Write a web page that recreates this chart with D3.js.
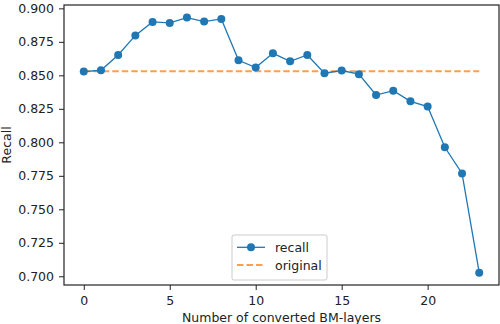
<!DOCTYPE html>
<html>
<head>
<meta charset="utf-8">
<script src="https://cdn.jsdelivr.net/npm/d3@7"></script>
<style>
  body { margin: 0; background: #fff; }
  text { font-family: "DejaVu Sans", sans-serif; fill: #222; }
</style>
</head>
<body>
<div id="chart"></div>
<script>
// Recall vs number of converted BM-layers

const layers = d3.range(0, 24);
const recall = [0.8528, 0.8538, 0.8652, 0.8798, 0.8899, 0.8891, 0.8931, 0.8901,
                0.8921, 0.8612, 0.8558, 0.8664, 0.8605, 0.8652, 0.8516, 0.8536,
                0.8509, 0.8353, 0.8385, 0.8306, 0.8267, 0.7963, 0.7768, 0.7027];
const original = 0.8531;
const xTicks = [0, 5, 10, 15, 20];
const yTicks = [0.700, 0.725, 0.750, 0.775, 0.800, 0.825, 0.850, 0.875, 0.900];

const width = 500, height = 324;
const margin = {left: 64, right: 1, top: 5, bottom: 39};
const fs = "12.5px";

const svg = d3.select("#chart").append("svg")
    .attr("width", width)
    .attr("height", height);

const x = d3.scaleLinear()
    .domain([-1.15, 24.15])
    .range([margin.left, width - margin.right]);

const y = d3.scaleLinear()
    .domain([0.6935, 0.9025])
    .range([height - margin.bottom, margin.top]);

// axes
svg.append("g")
    .attr("transform", `translate(0,${height - margin.bottom})`)
    .call(d3.axisBottom(x).tickValues(xTicks).tickSize(5).tickPadding(6))
    .call(g => g.select(".domain").remove())
    .call(g => g.selectAll("line").attr("stroke", "#222"))
    .call(g => g.selectAll("text").style("font-size", fs).attr("fill", "#222"));

svg.append("g")
    .attr("transform", `translate(${margin.left},0)`)
    .call(d3.axisLeft(y).tickValues(yTicks).tickFormat(d3.format(".3f")).tickSize(5).tickPadding(5))
    .call(g => g.select(".domain").remove())
    .call(g => g.selectAll("line").attr("stroke", "#222"))
    .call(g => g.selectAll("text").style("font-size", fs).attr("fill", "#222"));

// frame
svg.append("rect")
    .attr("x", margin.left)
    .attr("y", margin.top)
    .attr("width", width - margin.left - margin.right)
    .attr("height", height - margin.top - margin.bottom)
    .attr("fill", "none")
    .attr("stroke", "#222")
    .attr("stroke-width", 1.2);

// original baseline
svg.append("line")
    .attr("x1", x(0)).attr("x2", x(23))
    .attr("y1", y(original)).attr("y2", y(original))
    .attr("stroke", "#ff7f0e")
    .attr("stroke-opacity", 0.75)
    .attr("stroke-width", 2)
    .attr("stroke-dasharray", "6.5,3");

// recall line
const line = d3.line()
    .x((d, i) => x(layers[i]))
    .y(d => y(d));

svg.append("path")
    .datum(recall)
    .attr("d", line)
    .attr("fill", "none")
    .attr("stroke", "#1f77b4")
    .attr("stroke-width", 1.3);

svg.selectAll("circle.pt")
    .data(recall)
    .enter()
    .append("circle")
    .attr("class", "pt")
    .attr("cx", (d, i) => x(layers[i]))
    .attr("cy", d => y(d))
    .attr("r", 4)
    .attr("fill", "#1f77b4");

// axis labels
svg.append("text")
    .attr("x", (margin.left + width - margin.right) / 2)
    .attr("y", 321.5)
    .attr("text-anchor", "middle")
    .style("font-size", fs)
    .text("Number of converted BM-layers");

svg.append("text")
    .attr("transform", `translate(10.5,${(margin.top + height - margin.bottom) / 2}) rotate(-90)`)
    .attr("text-anchor", "middle")
    .style("font-size", fs)
    .text("Recall");

// legend
const legend = svg.append("g").attr("transform", "translate(232,235)");
legend.append("rect")
    .attr("width", 95).attr("height", 45)
    .attr("rx", 2)
    .attr("fill", "#fff").attr("fill-opacity", 0.8)
    .attr("stroke", "#ccc");
legend.append("line")
    .attr("x1", 5).attr("x2", 33).attr("y1", 12.3).attr("y2", 12.3)
    .attr("stroke", "#1f77b4").attr("stroke-width", 1.3);
legend.append("circle")
    .attr("cx", 19).attr("cy", 12.3).attr("r", 4).attr("fill", "#1f77b4");
legend.append("text")
    .attr("x", 43).attr("y", 16.8)
    .style("font-size", fs)
    .text("recall");
legend.append("line")
    .attr("x1", 5).attr("x2", 33).attr("y1", 30).attr("y2", 30)
    .attr("stroke", "#ff7f0e").attr("stroke-opacity", 0.75)
    .attr("stroke-width", 2).attr("stroke-dasharray", "6.5,3");
legend.append("text")
    .attr("x", 43).attr("y", 34.5)
    .style("font-size", fs)
    .text("original");
</script>
</body>
</html>
